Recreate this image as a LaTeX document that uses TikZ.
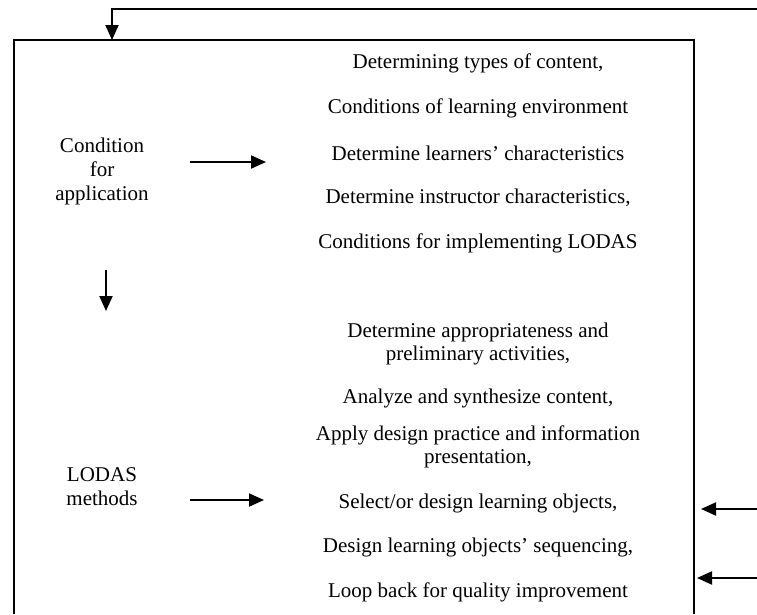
\documentclass[tikz,border=0pt]{standalone}
\usepackage{fontspec}
\setmainfont{Liberation Serif}
\usetikzlibrary{arrows.meta}
\begin{document}
\begin{tikzpicture}[x=1pt,y=-1pt,
  txt/.style={inner sep=0pt,align=center,font=\fontsize{21}{23}\selectfont},
  ltxt/.style={inner sep=0pt,align=center,font=\fontsize{21}{24}\selectfont},
  frame/.style={line width=2pt},
  arr/.style={line width=2pt,-{Triangle[length=15pt,width=13pt]}}]
\useasboundingbox (0,0) rectangle (757,614);
% frame (open at bottom)
\coordinate (bl) at (14,614);
\coordinate (tl) at (14,40);
\coordinate (tr) at (694,40);
\coordinate (br) at (694,614);
\draw[frame] (bl) -- (tl) -- (tr) -- (br);
% feedback line at top
\coordinate (fbR) at (757,9);
\coordinate (fbL) at (112,9);
\coordinate (boxTop) at (112,40);
\draw[arr] (fbR) -- (fbL) -- (boxTop);
% left column
\node[ltxt] (cond) at (102,171) {Condition\\for\\application};
\node[ltxt] (meth) at (102,487) {LODAS\\methods};
% right column group 1
\node[txt] (r1) at (478,63) {Determining types of content,};
\node[txt] (r2) at (478,108) {Conditions of learning environment};
\node[txt] (r3) at (478,153) {Determine learners’ characteristics};
\node[txt] (r4) at (478,198) {Determine instructor characteristics,};
\node[txt] (r5) at (478,243) {Conditions for implementing LODAS};
% right column group 2
\node[txt] (s1) at (478,344) {Determine appropriateness and\\preliminary activities,};
\node[txt] (s2) at (478,398) {Analyze and synthesize content,};
\node[txt] (s3) at (478,447) {Apply design practice and information\\presentation,};
\node[txt] (s4) at (478,503) {Select/or design learning objects,};
\node[txt] (s5) at (478,547) {Design learning objects’ sequencing,};
\node[txt] (s6) at (478,592) {Loop back for quality improvement};
% arrows
\coordinate (a1s) at (190,162);
\coordinate (a1e) at (266,162);
\draw[arr] (a1s) -- (a1e);
\coordinate (a2s) at (106,270);
\coordinate (a2e) at (106,311);
\draw[arr] (a2s) -- (a2e);
\coordinate (a3s) at (190,500);
\coordinate (a3e) at (264,500);
\draw[arr] (a3s) -- (a3e);
\coordinate (a4s) at (757,509);
\coordinate (a4e) at (701,509);
\draw[arr] (a4s) -- (a4e);
\coordinate (a5s) at (757,578);
\coordinate (a5e) at (697,578);
\draw[arr] (a5s) -- (a5e);
\end{tikzpicture}
\end{document}
